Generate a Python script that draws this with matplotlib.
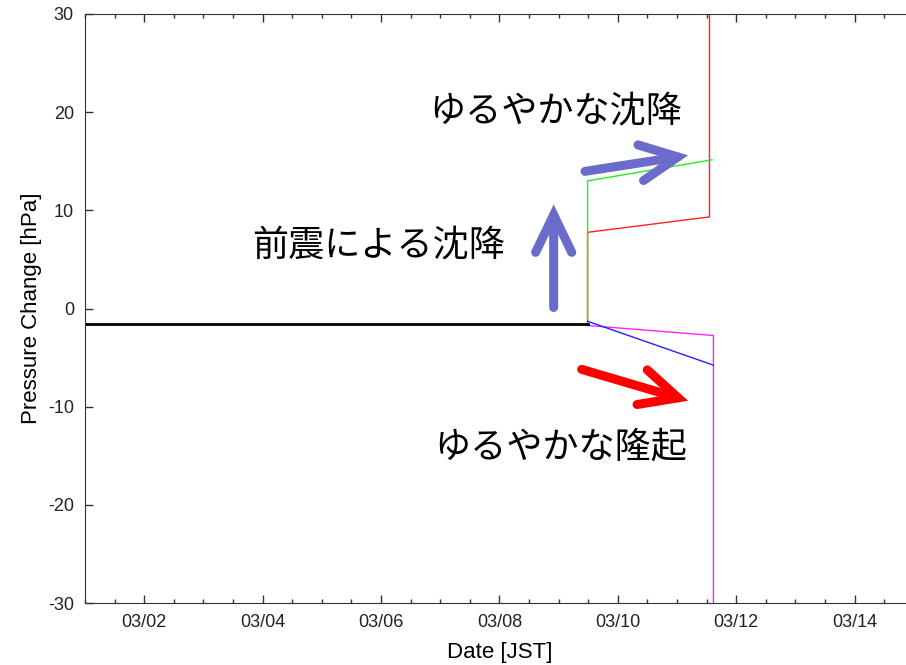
import datetime as dt
import matplotlib
matplotlib.use("Agg")
import matplotlib.pyplot as plt
import matplotlib.dates as mdates

plt.rcParams['font.family'] = ['Liberation Sans', 'DejaVu Sans']
plt.rcParams['axes.unicode_minus'] = False
jp_font = ['Noto Sans CJK JP', 'DejaVu Sans']

def t(day, hh=0, mm=0):
    return dt.datetime(2011, 3, day, hh, mm)

# data
black_t = [t(1), t(9, 11, 45)]
black_p = [-1.53, -1.53]

red_t = [t(9, 11, 45), t(9, 11, 45), t(11, 13, 10), t(11, 13, 10)]
red_p = [-1.5, 7.76, 9.33, 35.0]

green_t = [t(9, 11, 45), t(9, 11, 45), t(11, 14, 10)]
green_p = [-1.3, 13.0, 15.15]

blue_t = [t(9, 11, 45), t(11, 14, 46)]
blue_p = [-1.3, -5.77]

magenta_t = [t(9, 11, 45), t(11, 14, 46), t(11, 14, 46)]
magenta_p = [-1.73, -2.75, -35.0]

# annotations: (text, x, y)
labels = [
    ("ゆるやかな沈降", t(8, 23, 0), 20.1),
    ("前震による沈降", t(5, 23, 0), 6.4),
    ("ゆるやかな隆起", t(9, 1, 0), -14.2),
]
# arrows: (tail, head, color)
arrows = [
    ((t(8, 22, 0), 0.1), (t(8, 22, 0), 10.6), "#6b6bcc"),
    ((t(9, 10, 42), 13.97), (t(11, 4, 30), 15.6), "#6b6bcc"),
    ((t(9, 9, 22), -6.2), (t(11, 4, 30), -9.4), "#ff0000"),
]

fig = plt.figure(figsize=(9.06, 6.65), dpi=100)
ax = fig.add_axes([85/906, 62/665, 828.8/906, 589/665])

ax.plot(red_t, red_p, color="#ff2020", lw=1.0)
ax.plot(green_t, green_p, color="#22ee22", lw=1.0)
ax.plot(magenta_t, magenta_p, color="#ff22ff", lw=1.0)
ax.plot(blue_t, blue_p, color="#2222ff", lw=1.0)
ax.plot(black_t, black_p, color="black", lw=2.0)

for tail, head, col in arrows:
    ax.annotate("", xy=head, xytext=tail,
                arrowprops=dict(arrowstyle="->,head_length=1.35,head_width=0.65",
                                lw=6.5, color=col, capstyle="round", joinstyle="miter",
                                shrinkA=0, shrinkB=0, mutation_scale=20))

for txt, x, y in labels:
    ax.text(x, y, txt, fontsize=26, family=jp_font, ha="center", va="center")

ax.set_xlim(t(1), t(15))
ax.set_ylim(-30, 30)
ax.set_yticks([-30, -20, -10, 0, 10, 20, 30])
ax.xaxis.set_major_locator(mdates.DayLocator(bymonthday=range(2, 32, 2)))
ax.xaxis.set_minor_locator(mdates.HourLocator(byhour=[0, 12]))
ax.xaxis.set_major_formatter(mdates.DateFormatter("%m/%d"))

ax.tick_params(which="both", direction="in", top=True, right=False,
               labelsize=13, colors="#333333", labelcolor="#222222", pad=8)
ax.tick_params(which="major", length=6, width=1)
ax.tick_params(which="minor", length=3, width=1)
for s in ax.spines.values():
    s.set_color("#333333")

ax.set_xlabel("Date [JST]", fontsize=16, labelpad=8)
ax.set_ylabel("Pressure Change [hPa]", fontsize=16, labelpad=4)

fig.savefig("out.png", dpi=100)
